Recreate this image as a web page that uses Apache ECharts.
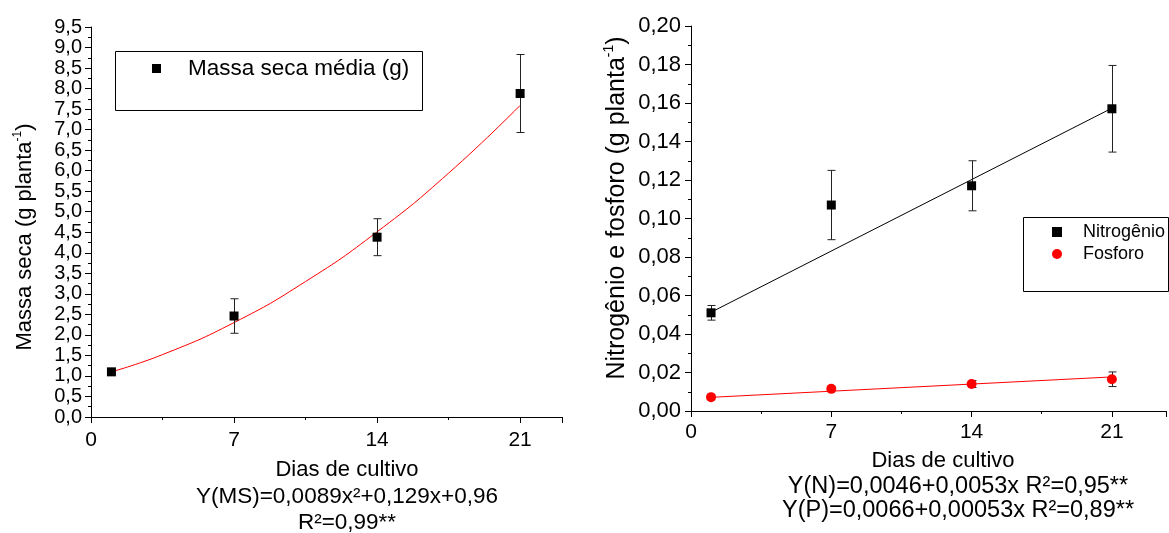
<!DOCTYPE html>
<html><head><meta charset="utf-8">
<script src="https://cdn.jsdelivr.net/npm/echarts@6/dist/echarts.min.js"></script>
<style>html,body{margin:0;padding:0;background:#fff}#c{width:1169px;height:533px}</style>
</head><body><div id="c"></div>
<script>
// ---- data ----
const days = [1, 7, 14, 21];
const massaMean = [1.10, 2.46, 4.38, 7.88];
const massaErr = [0.0, 0.42, 0.45, 0.95];
const massaFitX = [1, 3.5, 7, 10.5, 14, 17.5, 21];
const massaFitY = [1.10, 1.52, 2.30, 3.30, 4.51, 5.94, 7.59];

const nMean = [0.051, 0.107, 0.117, 0.157];
const nErr = [0.0038, 0.018, 0.013, 0.0225];
const pMean = [0.0072, 0.0115, 0.0140, 0.0165];
const pErr = [0.0, 0.0008, 0.0018, 0.0038];
const nFitX = [1, 21];
const nFitY = [0.0513, 0.1573];
const pFitX = [1, 21];
const pFitY = [0.0071, 0.0177];

const xTicks = [0, 7, 14, 21];
const leftYTitle = 'Massa seca (g planta';
const rightYTitle = 'Nitrogênio e fosforo (g planta';
const xTitle = 'Dias de cultivo';
const leftEq = ['Y(MS)=0,0089x²+0,129x+0,96', 'R²=0,99**'];
const rightEq = ['Y(N)=0,0046+0,0053x R²=0,95**', 'Y(P)=0,0066+0,00053x R²=0,89**'];

// ---- helpers ----
const FONT = 'Liberation Sans, Arial, sans-serif';
const zip = (xs, ys) => xs.map((x, i) => [x, ys[i]]);
const errData = (xs, m, e) => xs.map((x, i) => [x, m[i] - e[i], m[i] + e[i]]);

function errorRender(params, api) {
  const x = api.value(0), lo = api.value(1), hi = api.value(2);
  if (hi - lo <= 0) return null;
  const a = api.coord([x, hi]), b = api.coord([x, lo]);
  const w = 4, cx = Math.round(a[0]) + 0.5;
  const st = { stroke: '#222', lineWidth: 1 };
  return { type: 'group', children: [
    { type: 'line', shape: { x1: cx, y1: a[1], x2: cx, y2: b[1] }, style: st },
    { type: 'line', shape: { x1: cx - w, y1: a[1], x2: cx + w, y2: a[1] }, style: st },
    { type: 'line', shape: { x1: cx - w, y1: b[1], x2: cx + w, y2: b[1] }, style: st }
  ]};
}

function axisBase() {
  return {
    axisLine: { lineStyle: { color: '#000', width: 1 } },
    axisTick: { show: true, inside: false, length: 6, lineStyle: { color: '#000' } },
    minorTick: { show: true, splitNumber: 2, length: 3, lineStyle: { color: '#000' } },
    splitLine: { show: false },
    minorSplitLine: { show: false }
  };
}

const xFmt = v => (xTicks.indexOf(v) >= 0 ? String(v) : '');

const chart = echarts.init(document.getElementById('c'), null, { renderer: 'canvas' });

function supRich(size) {
  return {
    m: { fontSize: size, fontFamily: FONT, color: '#000', lineHeight: size + 4 },
    s: { fontSize: Math.round(size * 0.55), fontFamily: FONT, color: '#000', verticalAlign: 'top', lineHeight: size + 4 }
  };
}

function txt(x, y, t, size) {
  return { type: 'text', x: x, y: y, style: { text: t, fontSize: size, fontFamily: FONT, fill: '#000', align: 'center', verticalAlign: 'middle' } };
}

chart.setOption({
  animation: false,
  backgroundColor: '#fff',
  textStyle: { fontFamily: FONT },
  grid: [
    { left: 91, top: 27, width: 471, height: 390 },
    { left: 691, top: 26, width: 478, height: 385 }
  ],
  xAxis: [
    Object.assign(axisBase(), { gridIndex: 0, type: 'value', min: 0, max: 23.05, interval: 7,
      axisLabel: { fontSize: 21, color: '#000', margin: 13, formatter: xFmt, fontFamily: FONT } }),
    Object.assign(axisBase(), { gridIndex: 1, type: 'value', min: 0, max: 23.7, interval: 7,
      axisLabel: { fontSize: 21, color: '#000', margin: 11, formatter: xFmt, fontFamily: FONT } })
  ],
  yAxis: [
    Object.assign(axisBase(), { gridIndex: 0, type: 'value', min: 0, max: 9.5, interval: 0.5,
      axisLabel: { fontSize: 20, color: '#000', margin: 9, fontFamily: FONT, interval: 0,
        formatter: v => v.toFixed(1).replace('.', ',') } }),
    Object.assign(axisBase(), { gridIndex: 1, type: 'value', min: 0, max: 0.2, interval: 0.02,
      axisLabel: { fontSize: 22, color: '#000', margin: 10, fontFamily: FONT, interval: 0,
        showMinLabel: true, showMaxLabel: true,
        formatter: v => v.toFixed(2).replace('.', ',') } })
  ],
  legend: [
    { data: ['Massa seca média (g)'], left: 152, top: 57, orient: 'vertical',
      itemWidth: 9, itemHeight: 9, padding: 0,
      textStyle: { fontSize: 22.5, color: '#000', fontFamily: FONT, padding: [0, 0, 0, 22] } },
    { data: ['Nitrogênio', 'Fosforo'], left: 1052, top: 223, orient: 'vertical',
      itemWidth: 10, itemHeight: 10, itemGap: 4, padding: 0,
      textStyle: { fontSize: 18, color: '#000', fontFamily: FONT, padding: [0, 0, 0, 16] } }
  ],
  series: [
    { name: 'fitMS', type: 'line', xAxisIndex: 0, yAxisIndex: 0, data: zip(massaFitX, massaFitY),
      smooth: true, showSymbol: false, symbol: 'none', lineStyle: { color: '#ff0000', width: 1 }, z: 2 },
    { name: 'errMS', type: 'custom', xAxisIndex: 0, yAxisIndex: 0, renderItem: errorRender,
      data: errData(days, massaMean, massaErr), z: 3 },
    { name: 'Massa seca média (g)', type: 'scatter', xAxisIndex: 0, yAxisIndex: 0, data: zip(days, massaMean),
      symbol: 'rect', symbolSize: 9, itemStyle: { color: '#000', opacity: 1 }, z: 4 },

    { name: 'fitN', type: 'line', xAxisIndex: 1, yAxisIndex: 1, data: zip(nFitX, nFitY),
      showSymbol: false, symbol: 'none', lineStyle: { color: '#000', width: 1 }, z: 2 },
    { name: 'fitP', type: 'line', xAxisIndex: 1, yAxisIndex: 1, data: zip(pFitX, pFitY),
      showSymbol: false, symbol: 'none', lineStyle: { color: '#ff0000', width: 1 }, z: 2 },
    { name: 'errN', type: 'custom', xAxisIndex: 1, yAxisIndex: 1, renderItem: errorRender,
      data: errData(days, nMean, nErr), z: 3 },
    { name: 'errP', type: 'custom', xAxisIndex: 1, yAxisIndex: 1, renderItem: errorRender,
      data: errData(days, pMean, pErr), z: 3 },
    { name: 'Nitrogênio', type: 'scatter', xAxisIndex: 1, yAxisIndex: 1, data: zip(days, nMean),
      symbol: 'rect', symbolSize: 9, itemStyle: { color: '#000', opacity: 1 }, z: 4 },
    { name: 'Fosforo', type: 'scatter', xAxisIndex: 1, yAxisIndex: 1, data: zip(days, pMean),
      symbol: 'circle', symbolSize: 10, itemStyle: { color: '#ff0000', opacity: 1 }, z: 4 }
  ],
  graphic: [
    { type: 'rect', shape: { x: 115.5, y: 51.5, width: 307, height: 59 },
      style: { fill: 'none', stroke: '#000', lineWidth: 1 }, z: 1 },
    { type: 'rect', shape: { x: 1023.5, y: 217.5, width: 145, height: 74 },
      style: { fill: 'none', stroke: '#000', lineWidth: 1 }, z: 1 },
    { type: 'text', x: 25, y: 237, rotation: Math.PI / 2,
      style: { text: '{m|' + leftYTitle + '}{s|-1}{m|)}', rich: supRich(22), align: 'center', verticalAlign: 'middle' } },
    { type: 'text', x: 617, y: 208, rotation: Math.PI / 2,
      style: { text: '{m|' + rightYTitle + '}{s|-1}{m|)}', rich: supRich(25), align: 'center', verticalAlign: 'middle' } },
    txt(347, 470, xTitle, 22),
    txt(347, 497, leftEq[0], 22.5),
    txt(347, 523, leftEq[1], 22.5),
    txt(943, 461, xTitle, 22),
    txt(958, 487, rightEq[0], 23.5),
    txt(958, 511, rightEq[1], 23.5)
  ]
});
</script></body></html>
